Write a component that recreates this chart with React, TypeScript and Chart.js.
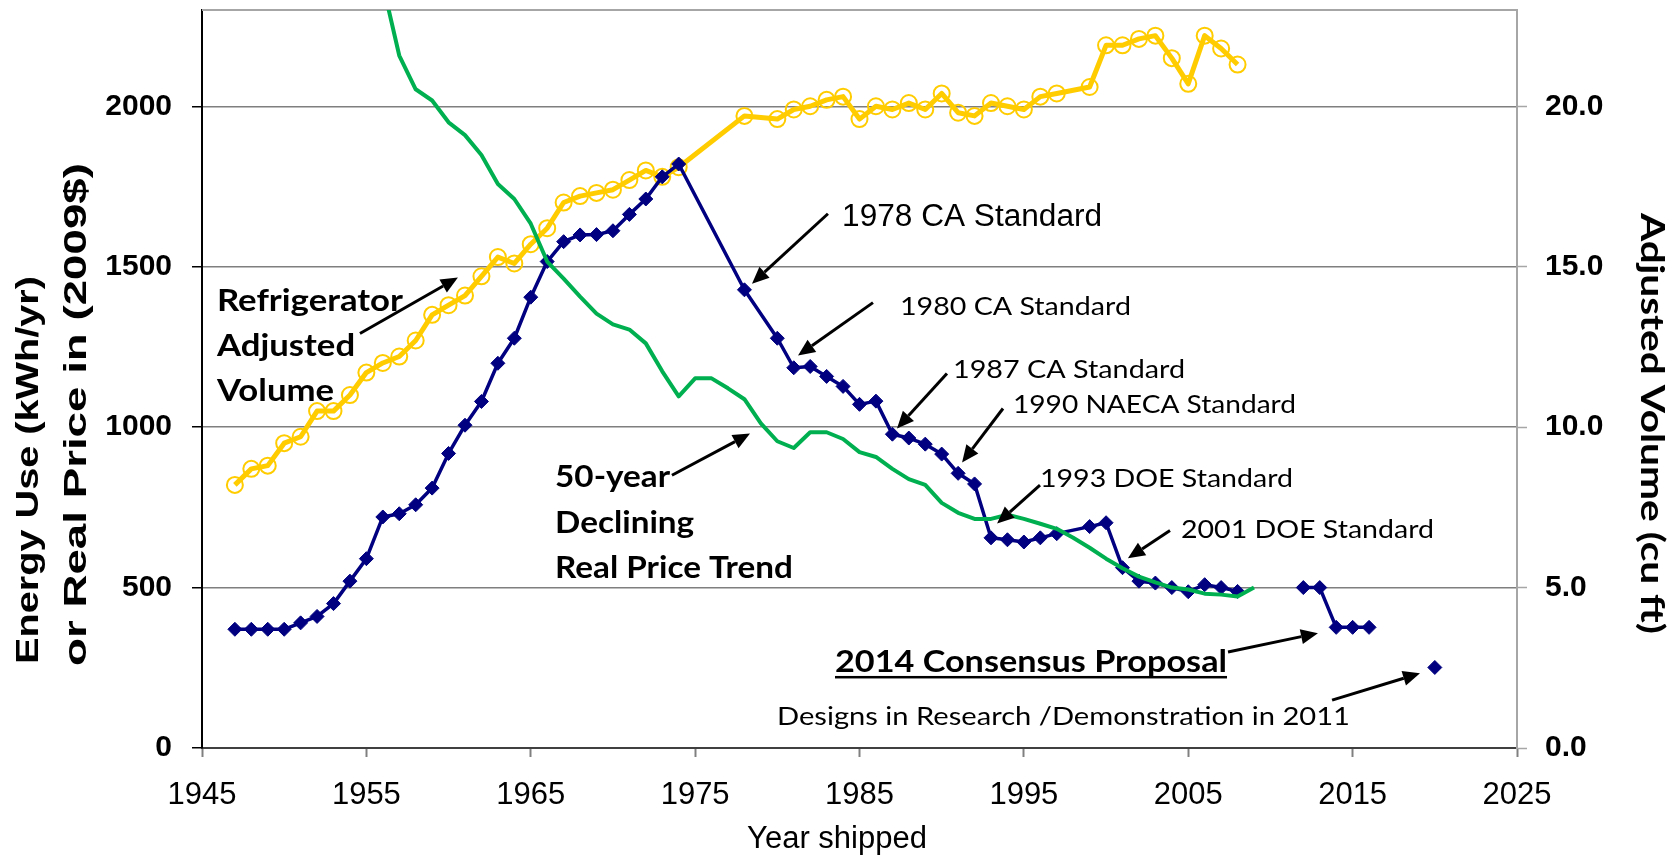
import React, { useEffect, useRef } from 'react';
import { Chart, registerables } from 'chart.js';

Chart.register(...registerables);

// ---------- data ----------
const energyYears = [
  1947, 1948, 1949, 1950, 1951, 1952, 1953, 1954, 1955, 1956, 1957, 1958, 1959, 1960,
  1961, 1962, 1963, 1964, 1965, 1966, 1967, 1968, 1969, 1970, 1971, 1972, 1973, 1974,
  1978, 1980, 1981, 1982, 1983, 1984, 1985, 1986, 1987, 1988, 1989, 1990, 1991, 1992,
  1993, 1994, 1995, 1996, 1997, 1999, 2000, 2001, 2002, 2003, 2004, 2005, 2006, 2007,
  2008, 2010, 2012, 2013, 2014, 2015, 2016, 2018, 2020,
];
const energyUse = [
  370, 370, 370, 370, 390, 410, 450, 520, 590, 720, 730, 758, 810, 918,
  1006, 1080, 1199, 1277, 1405, 1516, 1578, 1599, 1600, 1612, 1663, 1711, 1780, 1820,
  1428, 1277, 1185, 1189, 1158, 1127, 1071, 1081, 978, 966, 947, 916, 856, 823,
  655, 649, 642, 655, 668, 690, 702, 562, 520, 514, 500, 487, 509, 500,
  488, null, 500, 500, 376, 376, 376, null, 251,
];

const volumeYears = [
  1947, 1948, 1949, 1950, 1951, 1952, 1953, 1954, 1955, 1956, 1957, 1958, 1959, 1960,
  1961, 1962, 1963, 1964, 1965, 1966, 1967, 1968, 1969, 1970, 1971, 1972, 1973, 1974,
  1978, 1980, 1981, 1982, 1983, 1984, 1985, 1986, 1987, 1988, 1989, 1990, 1991, 1992,
  1993, 1994, 1995, 1996, 1997, 1999, 2000, 2001, 2002, 2003, 2004, 2005, 2006, 2007, 2008,
];
const adjustedVolume = [
  8.2, 8.7, 8.8, 9.5, 9.7, 10.5, 10.5, 11.0, 11.7, 12.0, 12.2, 12.7, 13.5, 13.8,
  14.1, 14.7, 15.3, 15.1, 15.7, 16.2, 17.0, 17.2, 17.3, 17.4, 17.7, 18.0, 17.8, 18.1,
  19.7, 19.6, 19.9, 20.0, 20.2, 20.3, 19.6, 20.0, 19.9, 20.1, 19.9, 20.4, 19.8, 19.7,
  20.1, 20.0, 19.9, 20.3, 20.4, 20.6, 21.9, 21.9, 22.1, 22.2, 21.5, 20.7, 22.2, 21.8, 21.3,
];

const priceYears = [
  1956, 1957, 1958, 1959, 1960, 1961, 1962, 1963, 1964, 1965, 1966, 1967, 1968, 1969,
  1970, 1971, 1972, 1973, 1974, 1975, 1976, 1977, 1978, 1979, 1980, 1981, 1982, 1983,
  1984, 1985, 1986, 1987, 1988, 1989, 1990, 1991, 1992, 1993, 1994, 1995, 1996, 1997,
  1998, 1999, 2000, 2001, 2002, 2003, 2004, 2005, 2006, 2007, 2008, 2009,
];
const realPrice = [
  2380, 2158, 2053, 2018, 1950, 1910, 1848, 1758, 1711, 1634, 1516, 1463, 1407, 1354,
  1320, 1304, 1261, 1174, 1096, 1152, 1152, 1121, 1087, 1012, 956, 935, 984, 984,
  963, 922, 907, 870, 838, 820, 764, 733, 714, 714, 727, 714, 699, 683,
  655, 624, 590, 560, 534, 516, 500, 494, 481, 478, 472, 500,
];

const xTickValues = [1945, 1955, 1965, 1975, 1985, 1995, 2005, 2015, 2025];
const leftTickValues = [0, 500, 1000, 1500, 2000];
const rightTickValues = [0, 5, 10, 15, 20];

// ---------- styling ----------
const ARIAL = '"Liberation Sans", Arial, sans-serif';
const CAL = 'Lato, "Open Sans", sans-serif';

type Note = {
  lines: string[];
  x: number;
  y: number;
  size: number;
  bold?: boolean;
  family: string;
  width: number;
  gap?: number;
  underline?: boolean;
  from?: [number, number];
  to?: [number, number];
};

const notes: Note[] = [
  { lines: ['Refrigerator', 'Adjusted', 'Volume'], x: 1945.91, y: 1363, size: 31, bold: true, family: CAL, width: 186, gap: 45, from: [1954.61, 1292], to: [1960.57, 1466] },
  { lines: ['50-year', 'Declining', 'Real Price Trend'], x: 1966.48, y: 812, size: 31, bold: true, family: CAL, width: 115, gap: 45.5, from: [1973.59, 850], to: [1978.34, 980] },
  { lines: ['1978 CA Standard'], x: 1983.94, y: 1628, size: 31, family: ARIAL, width: 260, from: [1983.08, 1665], to: [1978.46, 1447] },
  { lines: ['1980 CA Standard'], x: 1987.46, y: 1348, size: 25.5, family: CAL, width: 231, from: [1985.82, 1388], to: [1981.26, 1223] },
  { lines: ['1987 CA Standard'], x: 1990.69, y: 1152, size: 25.5, family: CAL, width: 232, from: [1990.32, 1167], to: [1987.28, 996] },
  { lines: ['1990 NAECA Standard'], x: 1994.34, y: 1043, size: 25.5, family: CAL, width: 283, from: [1993.73, 1058], to: [1991.24, 890] },
  { lines: ['1993 DOE Standard'], x: 1995.98, y: 812, size: 25.5, family: CAL, width: 253, from: [1995.98, 819], to: [1993.37, 700] },
  { lines: ['2001 DOE Standard'], x: 2004.56, y: 654, size: 25.5, family: CAL, width: 253, from: [2003.89, 678], to: [2001.33, 591] },
  { lines: ['2014 Consensus Proposal'], x: 1983.51, y: 237, size: 30, bold: true, underline: true, family: CAL, width: 392, from: [2007.42, 299], to: [2012.89, 358] },
  { lines: ['Designs in Research /Demonstration in 2011'], x: 1979.98, y: 72, size: 25.5, family: CAL, width: 573, from: [2013.75, 149], to: [2019.1, 233] },
];

function drawArrow(ctx: CanvasRenderingContext2D, x1: number, y1: number, x2: number, y2: number) {
  const ang = Math.atan2(y2 - y1, x2 - x1);
  const L = 17;
  const W = 7.5;
  const bx = x2 - L * Math.cos(ang);
  const by = y2 - L * Math.sin(ang);
  ctx.save();
  ctx.strokeStyle = '#000';
  ctx.fillStyle = '#000';
  ctx.lineWidth = 3;
  ctx.beginPath();
  ctx.moveTo(x1, y1);
  ctx.lineTo(bx, by);
  ctx.stroke();
  ctx.beginPath();
  ctx.moveTo(x2, y2);
  ctx.lineTo(bx + W * Math.sin(ang), by - W * Math.cos(ang));
  ctx.lineTo(bx - W * Math.sin(ang), by + W * Math.cos(ang));
  ctx.closePath();
  ctx.fill();
  ctx.restore();
}

function drawStretched(
  ctx: CanvasRenderingContext2D,
  text: string,
  x: number,
  y: number,
  angle: number,
  font: string,
  length: number,
  baseline: CanvasTextBaseline,
) {
  ctx.save();
  ctx.font = font;
  const w = ctx.measureText(text).width;
  ctx.translate(x, y);
  ctx.rotate(angle);
  ctx.scale(length / w, 1);
  ctx.textAlign = 'left';
  ctx.textBaseline = baseline;
  ctx.fillStyle = '#000';
  ctx.fillText(text, 0, 0);
  ctx.restore();
}

const decorPlugin = {
  id: 'decor',
  beforeDatasetsDraw(chart: any) {
    const { ctx, chartArea: a } = chart;
    ctx.save();
    ctx.strokeStyle = '#a6a6a6';
    ctx.lineWidth = 2;
    ctx.beginPath();
    ctx.moveTo(a.left, a.top);
    ctx.lineTo(a.right, a.top);
    ctx.stroke();
    ctx.restore();
  },
  afterDraw(chart: any) {
    const { ctx } = chart;
    const xs = chart.scales.x;
    const ys = chart.scales.y;
    for (const n of notes) {
      const font = `${n.bold ? 'bold ' : ''}${n.size}px ${n.family}`;
      ctx.save();
      ctx.font = font;
      const sx = n.width / ctx.measureText(n.lines[0]).width;
      const px = xs.getPixelForValue(n.x);
      const py = ys.getPixelForValue(n.y);
      ctx.fillStyle = '#000';
      ctx.textAlign = 'left';
      ctx.textBaseline = 'alphabetic';
      n.lines.forEach((line, i) => {
        const ly = py + i * (n.gap || 0);
        ctx.save();
        ctx.translate(px, ly);
        ctx.scale(sx, 1);
        ctx.fillText(line, 0, 0);
        ctx.restore();
        if (n.underline) {
          const lw = ctx.measureText(line).width * sx;
          ctx.fillRect(px, ly + 4, lw, 2.5);
        }
      });
      ctx.restore();
      if (n.from && n.to) {
        drawArrow(
          ctx,
          xs.getPixelForValue(n.from[0]),
          ys.getPixelForValue(n.from[1]),
          xs.getPixelForValue(n.to[0]),
          ys.getPixelForValue(n.to[1]),
        );
      }
    }
    // axis titles
    const titleFont = `bold 31px ${ARIAL}`;
    drawStretched(ctx, 'Energy Use (kWh/yr)', 29, 664, -Math.PI / 2, titleFont, 388, 'middle');
    drawStretched(ctx, 'or Real Price in (2009$)', 77, 666, -Math.PI / 2, titleFont, 503, 'middle');
    drawStretched(ctx, 'Adjusted Volume (cu ft)', 1651, 213, Math.PI / 2, `bold 32px ${CAL}`, 421, 'middle');
    ctx.save();
    ctx.font = `31px ${ARIAL}`;
    ctx.fillStyle = '#000';
    ctx.textAlign = 'center';
    ctx.textBaseline = 'middle';
    ctx.fillText('Year shipped', 837, 839);
    ctx.restore();
  },
};

function fixSize(prop: 'width' | 'height', value: number) {
  return (s: any) => {
    s[prop] = value;
    s.paddingTop = 0;
    s.paddingBottom = 0;
    s.paddingLeft = 0;
    s.paddingRight = 0;
  };
}

export default function App() {
  const canvasRef = useRef<HTMLCanvasElement | null>(null);

  useEffect(() => {
    document.body.style.margin = '0';
    const canvas = canvasRef.current;
    if (!canvas) return;

    const chart = new Chart(canvas, {
      type: 'line',
      data: {
        datasets: [
          {
            label: 'Real price',
            data: priceYears.map((x, i) => ({ x, y: realPrice[i] })),
            yAxisID: 'y',
            borderColor: '#00B050',
            borderWidth: 4,
            pointRadius: 0,
            tension: 0,
            clip: 0,
            borderJoinStyle: 'round',
          },
          {
            label: 'Energy use',
            data: energyYears.map((x, i) => ({ x, y: energyUse[i] })),
            yAxisID: 'y',
            borderColor: '#000080',
            borderWidth: 3.5,
            pointStyle: 'rectRot',
            pointRadius: 7,
            pointBackgroundColor: '#000080',
            pointBorderColor: '#000080',
            pointBorderWidth: 1,
            spanGaps: false,
            tension: 0,
            borderJoinStyle: 'round',
          },
          {
            label: 'Adjusted volume',
            data: volumeYears.map((x, i) => ({ x, y: adjustedVolume[i] })),
            yAxisID: 'y1',
            borderColor: '#FFCC00',
            borderWidth: 5,
            pointStyle: 'circle',
            pointRadius: 8,
            pointBackgroundColor: 'rgba(0,0,0,0)',
            pointBorderColor: '#FFCC00',
            pointBorderWidth: 2,
            tension: 0,
            borderJoinStyle: 'round',
          },
        ],
      } as any,
      options: {
        animation: false,
        responsive: false,
        devicePixelRatio: 1,
        layout: { padding: { top: 9, left: 0, right: 0, bottom: 0 } },
        plugins: {
          legend: { display: false },
          title: { display: false },
          tooltip: { enabled: false },
        },
        scales: {
          x: {
            type: 'linear',
            min: 1945,
            max: 2025,
            afterBuildTicks: (s: any) => {
              s.ticks = xTickValues.map((v) => ({ value: v }));
            },
            afterFit: fixSize('height', 109),
            ticks: {
              callback: (v: any) => String(v),
              font: { family: ARIAL, size: 31 },
              color: '#000',
              padding: 20,
              maxRotation: 0,
              autoSkip: false,
            },
            grid: {
              drawOnChartArea: false,
              drawTicks: true,
              tickLength: 9,
              tickColor: '#808080',
              tickWidth: 2,
            },
            border: { color: '#404040', width: 2 },
          },
          y: {
            type: 'linear',
            position: 'left',
            min: 0,
            max: 2300,
            afterBuildTicks: (s: any) => {
              s.ticks = leftTickValues.map((v) => ({ value: v }));
            },
            afterFit: fixSize('width', 202),
            ticks: {
              callback: (v: any) => String(v),
              font: { family: ARIAL, size: 30, weight: 'bold' },
              color: '#000',
              padding: 20,
            },
            grid: {
              color: '#7f7f7f',
              lineWidth: 1.5,
              tickLength: 10,
              tickColor: '#000',
              tickWidth: 1.5,
            },
            border: { color: '#000', width: 2 },
          },
          y1: {
            type: 'linear',
            position: 'right',
            min: 0,
            max: 23,
            afterBuildTicks: (s: any) => {
              s.ticks = rightTickValues.map((v) => ({ value: v }));
            },
            afterFit: fixSize('width', 155),
            ticks: {
              callback: (v: any) => Number(v).toFixed(1),
              font: { family: ARIAL, size: 30, weight: 'bold' },
              color: '#000',
              padding: 18,
            },
            grid: {
              drawOnChartArea: false,
              drawTicks: true,
              tickLength: 10,
              tickColor: '#a6a6a6',
              tickWidth: 1.5,
            },
            border: { color: '#a6a6a6', width: 2 },
          },
        },
      } as any,
      plugins: [decorPlugin],
    });

    return () => {
      chart.destroy();
    };
  }, []);

  return (
    <div style={{ width: 1672, height: 857, overflow: 'hidden', background: '#fff' }}>
      <canvas ref={canvasRef} width={1672} height={857} style={{ display: 'block', width: 1672, height: 857 }} />
    </div>
  );
}
